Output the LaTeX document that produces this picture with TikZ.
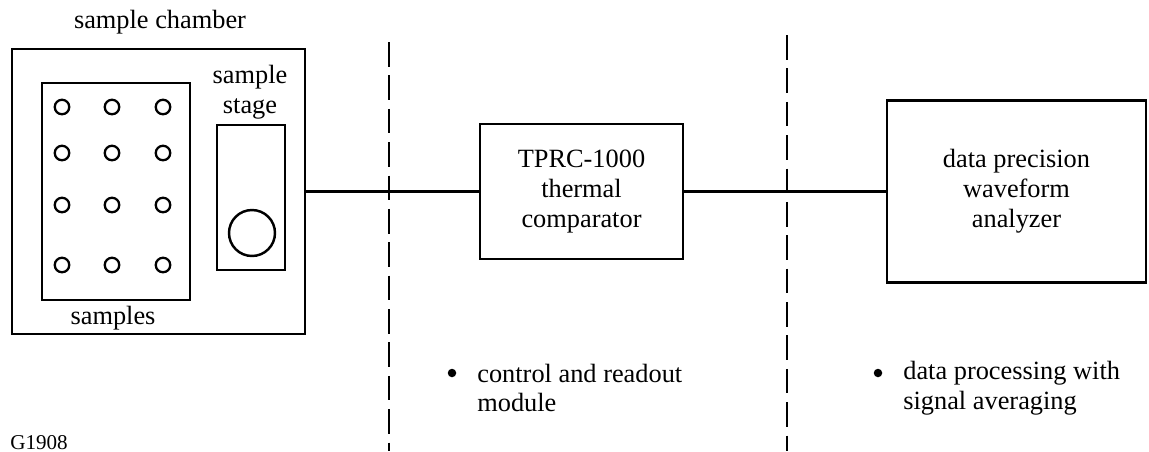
\documentclass[tikz,border=0pt]{standalone}
\usepackage{fontspec}
\setmainfont{Liberation Serif}
\usetikzlibrary{positioning}

\tikzset{
  caixa/.style={draw, line width=1.4pt, inner sep=0pt, align=center},
  amostra/.style={draw, circle, line width=1.3pt, minimum size=0.29cm, inner sep=0pt},
  divisor/.style={line width=1.4pt, dash pattern=on 14pt off 5pt},
  ligacao/.style={line width=1.4pt},
  marcador/.style={circle, fill, minimum size=0.17cm, inner sep=0pt},
  rotulo/.style={inner sep=0pt, align=left}
}

\begin{document}
\begin{tikzpicture}[x=0.02cm, y=-0.02cm, font=\fontsize{15}{17}\selectfont]
    \useasboundingbox (0,0) rectangle (1149,451);

    % Câmara de amostras
    \node[caixa, minimum width=5.86cm, minimum height=5.7cm] (chamber) at (158.5,191.5) {};
    \node[inner sep=0pt] (chamberlabel) at (160,22) {sample chamber};

    % Porta-amostras com as amostras
    \node[caixa, minimum width=2.96cm, minimum height=4.34cm] (holder) at (116,191.5) {};
    \foreach \y [count=\i] in {107,153,205,265} {
        \foreach \x [count=\j] in {62,112,163} {
            \node[amostra] (s\i\j) at (\x,\y) {};
        }
    }
    \node[inner sep=0pt] (holderlabel) at (113,318) {samples};

    % Estágio da amostra
    \node[caixa, minimum width=1.36cm, minimum height=2.9cm] (stage) at (251,197.5) {};
    \node[amostra, line width=1.4pt, minimum size=0.92cm] (stagespot) at (252,233) {};
    \node[inner sep=0pt, align=center] (stagelabel) at (250,92) {sample\\stage};

    % Comparador e analisador
    \node[caixa, minimum width=4.06cm, minimum height=2.7cm] (comp) at (581.5,191.5)
        {TPRC-1000\\thermal\\comparator};
    \node[caixa, minimum width=5.18cm, minimum height=3.64cm] (analyzer) at (1016.5,191.5)
        {data precision\\waveform\\analyzer};

    % Ligações
    \draw[ligacao] (chamber) -- (comp);
    \draw[ligacao] (comp) -- (analyzer);

    % Linhas divisórias tracejadas
    \coordinate (d1top) at (389,42);
    \coordinate (d1bot) at (389,451);
    \coordinate (d2top) at (787,35);
    \coordinate (d2bot) at (787,451);
    \draw[divisor] (d1top) -- (d1bot);
    \draw[divisor] (d2top) -- (d2bot);

    % Descrições com marcadores
    \node[marcador] (b1) at (452,373) {};
    \node[rotulo, anchor=west] (desc1) at (477,388) {control and readout\\module};
    \node[marcador] (b2) at (878,373) {};
    \node[rotulo, anchor=west] (desc2) at (903,388) {data processing with\\signal averaging};

    % Número da figura
    \node[inner sep=0pt, anchor=base west, font=\fontsize{12}{14}\selectfont] (fig) at (10,449) {G1908};
\end{tikzpicture}
\end{document}
